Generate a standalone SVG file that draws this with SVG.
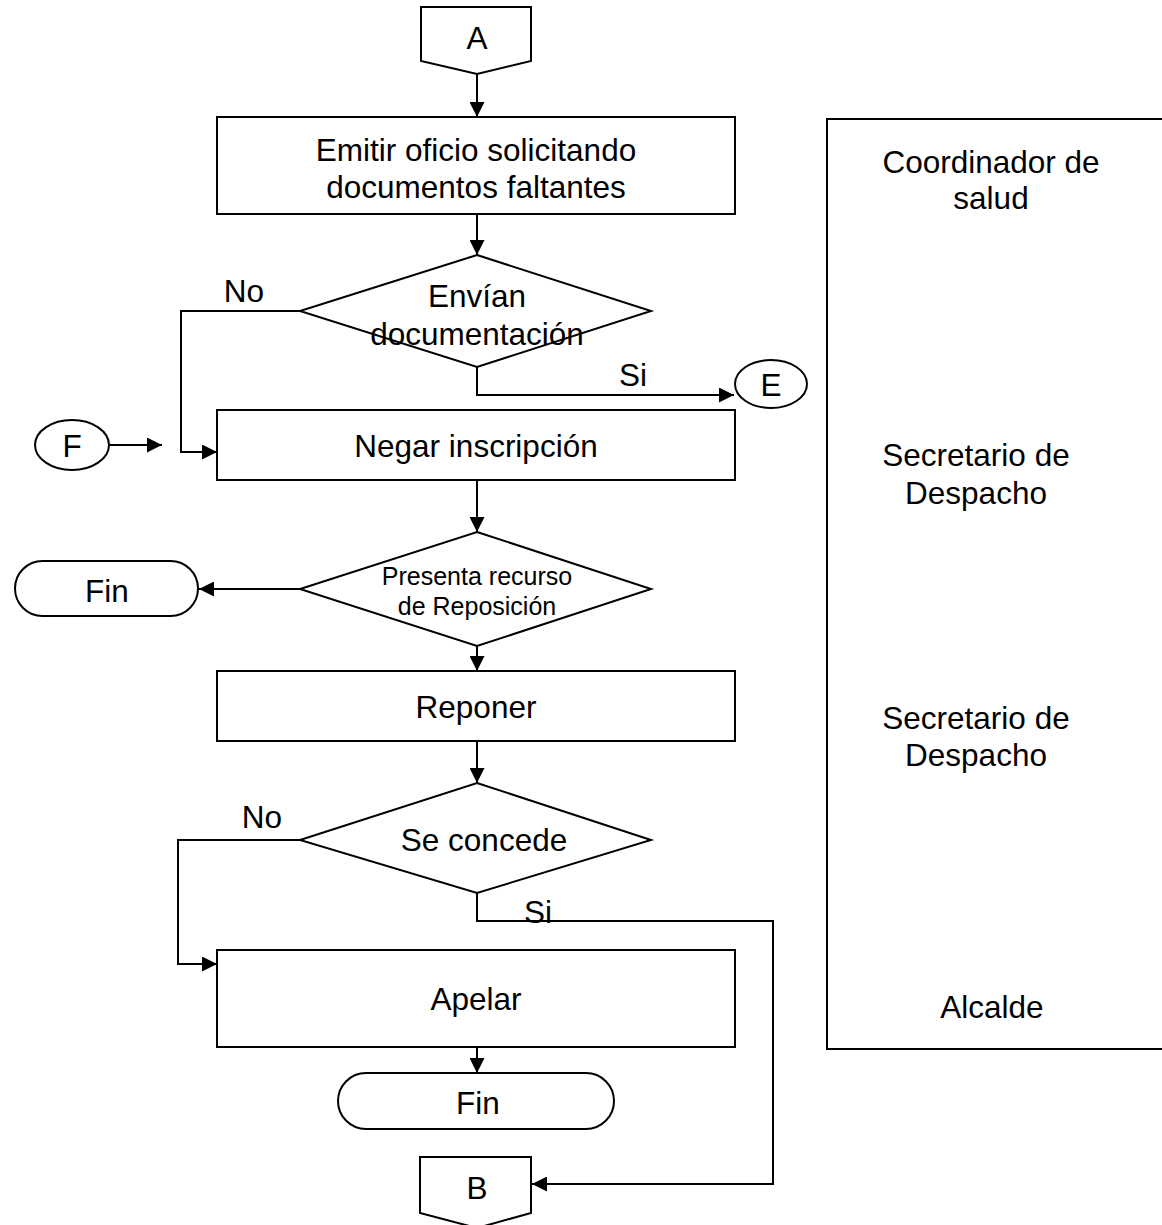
<svg xmlns="http://www.w3.org/2000/svg" width="1162" height="1225" viewBox="0 0 1162 1225">
<style>
.s{fill:#fff;stroke:#000;stroke-width:2}
.c{fill:none;stroke:#000;stroke-width:2}
.t{font-family:"Liberation Sans",Arial,sans-serif;font-size:31.5px;fill:#000;text-anchor:middle}
.sm{font-size:25px}
</style>
<defs>
<marker id="ah" viewBox="0 0 10 10" refX="10" refY="5" markerWidth="15" markerHeight="15" markerUnits="userSpaceOnUse" orient="auto">
<path d="M0,0 L10,5 L0,10 z" fill="#000"/>
</marker>
</defs>
<rect width="1162" height="1225" fill="#fff"/>
<g id="connectors">
<path class="c" d="M477,74 L477,117" marker-end="url(#ah)"/>
<path class="c" d="M477,214 L477,255" marker-end="url(#ah)"/>
<path class="c" d="M300,311 L181,311 L181,452 L217,452" marker-end="url(#ah)"/>
<path class="c" d="M477,367 L477,395 L734,395" marker-end="url(#ah)"/>
<path class="c" d="M109,445 L162,445" marker-end="url(#ah)"/>
<path class="c" d="M477,480 L477,532" marker-end="url(#ah)"/>
<path class="c" d="M300,589 L199,589" marker-end="url(#ah)"/>
<path class="c" d="M477,646 L477,671" marker-end="url(#ah)"/>
<path class="c" d="M477,741 L477,783" marker-end="url(#ah)"/>
<path class="c" d="M300,840 L178,840 L178,964 L217,964" marker-end="url(#ah)"/>
<path class="c" d="M477,893 L477,921 L773,921 L773,1184 L532,1184" marker-end="url(#ah)"/>
<path class="c" d="M477,1030 L477,1073" marker-end="url(#ah)"/>
</g>
<g id="A">
<path class="s" d="M421,7 L531,7 L531,61 L477,74 L421,61 Z"/>
<text class="t" x="477" y="49">A</text>
</g>
<g id="emitir">
<rect class="s" x="217" y="117" width="518" height="97"/>
<text class="t" x="476" y="161">Emitir oficio solicitando</text>
<text class="t" x="476" y="198">documentos faltantes</text>
</g>
<g id="envian">
<path class="s" d="M477,255 L651,311 L477,367 L300,311 Z"/>
<text class="t" x="477" y="307">Envían</text>
<text class="t" x="477" y="345">documentación</text>
</g>
<g id="E">
<ellipse class="s" cx="771" cy="384" rx="36" ry="24"/>
<text class="t" x="771" y="396">E</text>
</g>
<g id="F">
<ellipse class="s" cx="72" cy="445" rx="37" ry="25"/>
<text class="t" x="72" y="457">F</text>
</g>
<g id="negar">
<rect class="s" x="217" y="410" width="518" height="70"/>
<text class="t" x="476" y="457">Negar inscripción</text>
</g>
<g id="presenta">
<path class="s" d="M477,532 L651,589 L477,646 L300,589 Z"/>
<text class="t sm" x="477" y="585">Presenta recurso</text>
<text class="t sm" x="477" y="615">de Reposición</text>
</g>
<g id="fin1">
<rect class="s" x="15" y="561" width="183" height="55" rx="27.5"/>
<text class="t" x="107" y="602">Fin</text>
</g>
<g id="reponer">
<rect class="s" x="217" y="671" width="518" height="70"/>
<text class="t" x="476" y="718">Reponer</text>
</g>
<g id="concede">
<path class="s" d="M477,783 L651,840 L477,893 L300,840 Z"/>
<text class="t" x="484" y="851">Se concede</text>
</g>
<g id="apelar">
<rect class="s" x="217" y="950" width="518" height="97"/>
<text class="t" x="476" y="1010">Apelar</text>
</g>
<g id="fin2">
<rect class="s" x="338" y="1073" width="276" height="56" rx="28"/>
<text class="t" x="478" y="1114">Fin</text>
</g>
<g id="B">
<path class="s" d="M420,1157 L531,1157 L531,1213 L477,1228 L420,1213 Z"/>
<text class="t" x="477" y="1199">B</text>
</g>
<g id="labels">
<text class="t" x="244" y="302">No</text>
<text class="t" x="633" y="386">Si</text>
<text class="t" x="262" y="828">No</text>
<text class="t" x="538" y="923">Si</text>
</g>
<g id="roles">
<path class="c" d="M1170,119 L827,119 L827,1049 L1170,1049"/>
<text class="t" x="991" y="173">Coordinador de</text>
<text class="t" x="991" y="209">salud</text>
<text class="t" x="976" y="466">Secretario de</text>
<text class="t" x="976" y="504">Despacho</text>
<text class="t" x="976" y="729">Secretario de</text>
<text class="t" x="976" y="766">Despacho</text>
<text class="t" x="992" y="1018">Alcalde</text>
</g>
</svg>
